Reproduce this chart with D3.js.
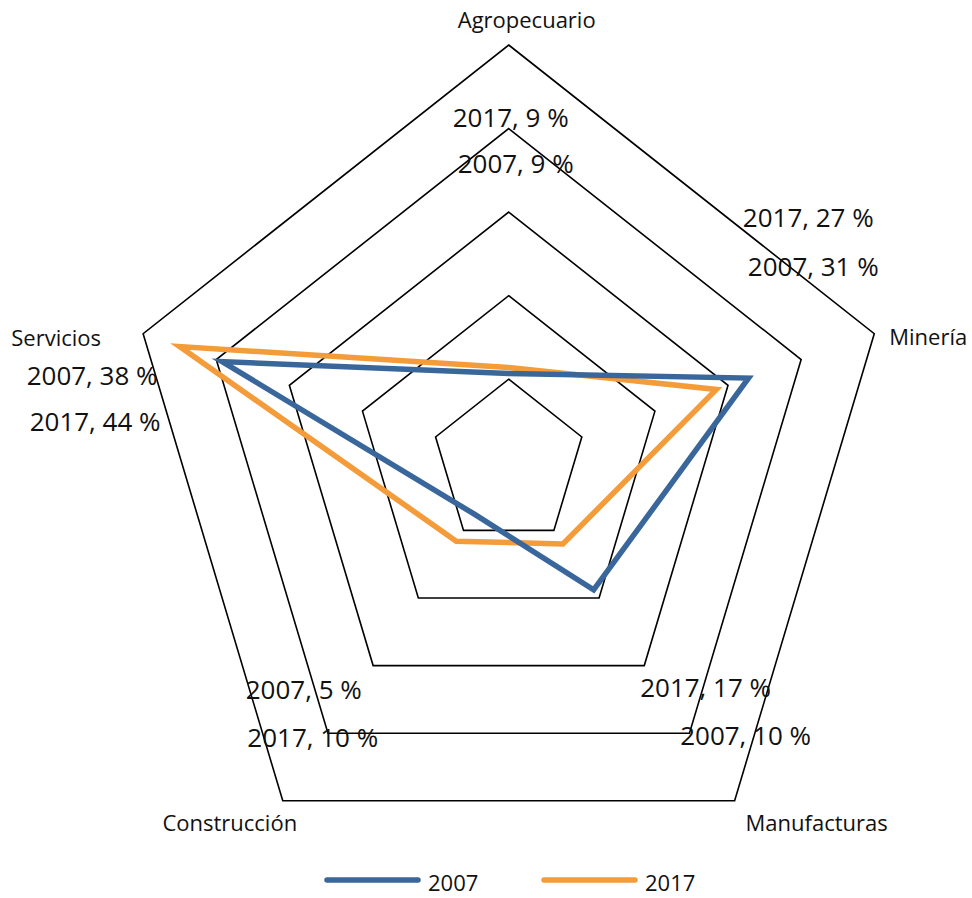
<!DOCTYPE html>
<html>
<head>
<meta charset="utf-8">
<script src="https://cdn.jsdelivr.net/npm/d3@7"></script>
<style>
  body { margin: 0; background: #fff; }
  text { font-family: "Open Sans", sans-serif; fill: #111; }
</style>
</head>
<body>
<script>
// categories, clockwise from the top
var categories = ["Agropecuario", "Minería", "Manufacturas", "Construcción", "Servicios"];
var seriesNames = ["2007", "2017"];

// values in %
var values2007 = [10.7, 32.8, 18.8, 7.6, 39.2];
var values2017 = [11.4, 28.4, 12.0, 11.6, 45.0];

// grid levels
var gridTicks = [10, 20, 30, 40, 50];

// data label texts as shown in the chart, per category (upper one first)
var labelTexts = [
  ["2017, 9 %", "2007, 9 %"],
  ["2017, 27 %", "2007, 31 %"],
  ["2017, 17 %", "2007, 10 %"],
  ["2007, 5 %", "2017, 10 %"],
  ["2007, 38 %", "2017, 44 %"]
];

// set the dimensions
var width = 972, height = 898;
var cx = 508.7, cy = 462.8, radius = 417.8, kx = 0.92;

var colors = {"2007": "#3a679b", "2017": "#f49b3a"};

// scales
var r = d3.scaleLinear().domain([0, 50]).range([0, radius]);
var angle = d3.scaleLinear().domain([0, categories.length]).range([0, 2 * Math.PI]);

function px(i, v) { return cx + kx * r(v) * Math.sin(angle(i)); }
function py(i, v) { return cy - r(v) * Math.cos(angle(i)); }

var svg = d3.select("body").append("svg")
    .attr("width", width)
    .attr("height", height);

svg.append("rect").attr("width", width).attr("height", height).attr("fill", "#fff");

// grid pentagons
var ring = d3.line()
    .x(function(d) { return d.x; })
    .y(function(d) { return d.y; })
    .curve(d3.curveLinearClosed);

svg.selectAll(".grid")
    .data(gridTicks)
  .enter().append("path")
    .attr("class", "grid")
    .attr("fill", "none")
    .attr("stroke", "#000")
    .attr("stroke-width", 1.6)
    .attr("stroke-linejoin", "miter")
    .attr("d", function(t) {
      return ring(categories.map(function(c, i) { return {x: px(i, t), y: py(i, t)}; }));
    });

// series lines (2017 under 2007)
var series = [
  {name: "2017", values: values2017},
  {name: "2007", values: values2007}
];

svg.selectAll(".series")
    .data(series)
  .enter().append("path")
    .attr("class", "series")
    .attr("fill", "none")
    .attr("stroke", function(d) { return colors[d.name]; })
    .attr("stroke-width", 5.5)
    .attr("stroke-linejoin", "miter")
    .attr("stroke-miterlimit", 10)
    .attr("d", function(d) {
      return ring(d.values.map(function(v, i) { return {x: px(i, v), y: py(i, v)}; }));
    });

// category labels, offset from the outer vertex
var catOffsets = [[18, -17], [54, 11], [82, 30], [-53, 30], [-87, 12]];
svg.selectAll(".cat")
    .data(categories)
  .enter().append("text")
    .attr("class", "cat")
    .attr("x", function(d, i) { return px(i, 50) + catOffsets[i][0]; })
    .attr("y", function(d, i) { return py(i, 50) + catOffsets[i][1]; })
    .style("text-anchor", "middle")
    .style("font-size", "22px")
    .text(function(d) { return d; });

// data labels
var labelOffsets = [
  [[2, 82], [7, 128]],
  [[-66, -107], [-61, -58]],
  [[-29, -104], [11, -56]],
  [[21, -102], [30, -54]],
  [[-51, 51], [-48, 97]]
];
var labelData = [];
labelTexts.forEach(function(pair, i) {
  pair.forEach(function(t, j) {
    labelData.push({i: i, text: t, off: labelOffsets[i][j]});
  });
});
svg.selectAll(".dlabel")
    .data(labelData)
  .enter().append("text")
    .attr("class", "dlabel")
    .attr("x", function(d) { return px(d.i, 50) + d.off[0]; })
    .attr("y", function(d) { return py(d.i, 50) + d.off[1]; })
    .style("text-anchor", "middle")
    .style("font-size", "26px")
    .text(function(d) { return d.text; });

// legend
var legend = svg.selectAll(".legend")
    .data(seriesNames)
  .enter().append("g")
    .attr("class", "legend")
    .attr("transform", function(d, i) { return "translate(" + (327 + i * 217) + ",880)"; });

legend.append("line")
    .attr("x1", 0).attr("x2", 91)
    .attr("stroke", function(d) { return colors[d]; })
    .attr("stroke-width", 5.5)
    .attr("stroke-linecap", "round");

legend.append("text")
    .attr("x", 101)
    .attr("y", 11)
    .style("font-size", "22px")
    .text(function(d) { return d; });
</script>
</body>
</html>
